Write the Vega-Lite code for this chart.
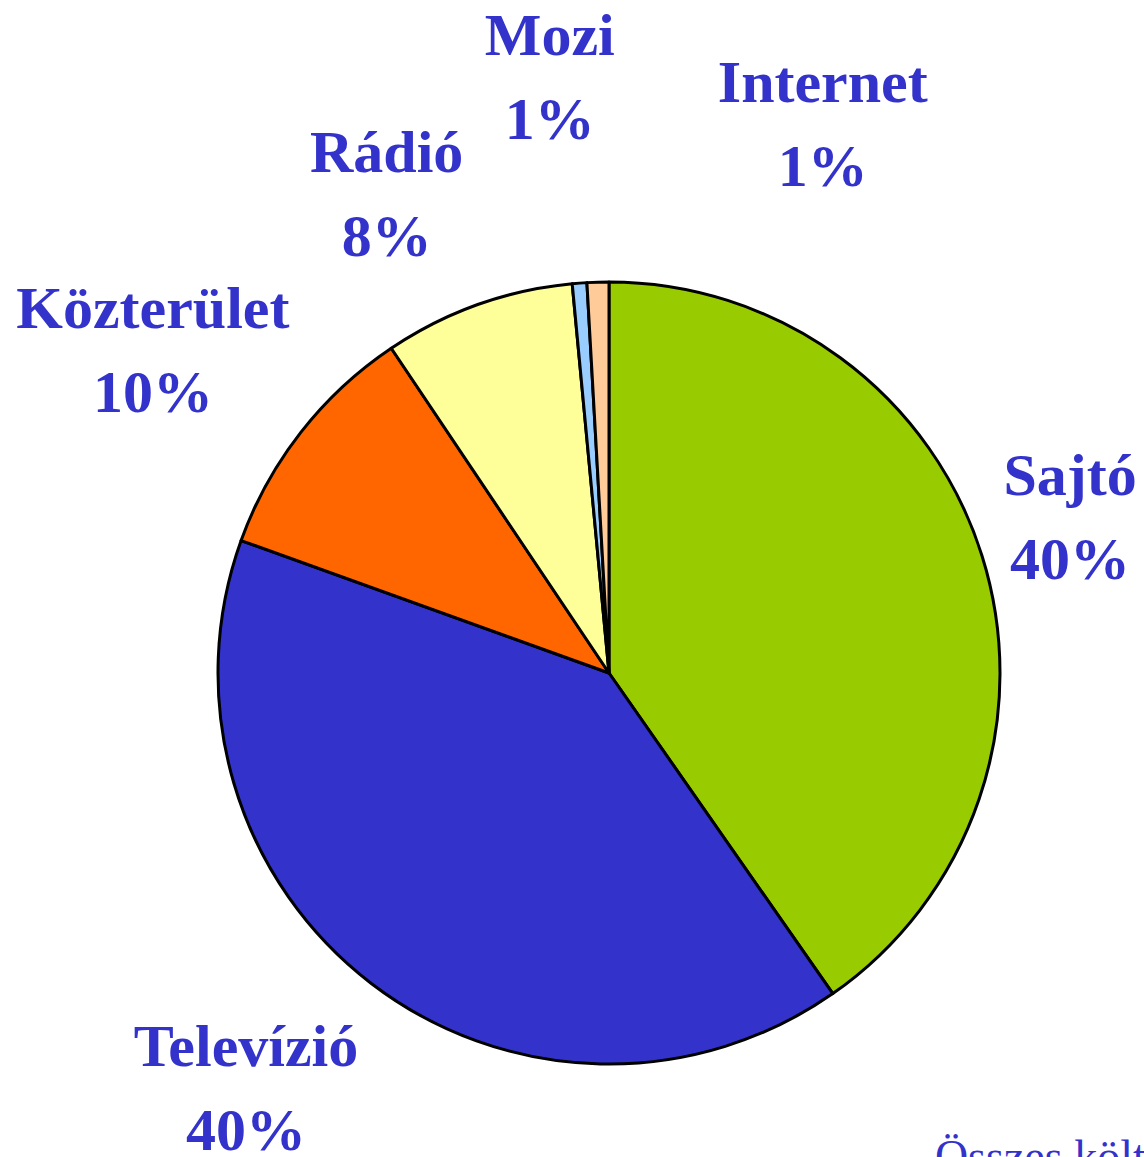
{
  "$schema": "https://vega.github.io/schema/vega-lite/v6.json",
  "autosize": "none",
  "width": 1070,
  "height": 968,
  "padding": {"left": 74, "top": 189, "right": 0, "bottom": 0},
  "background": "white",
  "view": {"stroke": null},
  "data": {
    "values": [
      {"cat": "Sajtó", "value": 40.3, "ord": 1, "label": "Sajtó\n40%"},
      {"cat": "Televízió", "value": 40.2, "ord": 2, "label": "Televízió\n40%"},
      {"cat": "Közterület", "value": 10.1, "ord": 3, "label": "Közterület\n10%"},
      {"cat": "Rádió", "value": 7.9, "ord": 4, "label": "Rádió\n8%"},
      {"cat": "Mozi", "value": 0.6, "ord": 5, "label": "Mozi\n1%"},
      {"cat": "Internet", "value": 0.9, "ord": 6, "label": "Internet\n1%"}
    ]
  },
  "encoding": {
    "theta": {"field": "value", "type": "quantitative", "stack": true},
    "order": {"field": "ord", "type": "quantitative"}
  },
  "layer": [
    {
      "mark": {"type": "arc", "outerRadius": 391, "stroke": "#000000", "strokeWidth": 3, "strokeJoin": "round"},
      "encoding": {
        "color": {
          "field": "cat",
          "type": "nominal",
          "scale": {
            "domain": ["Sajtó", "Televízió", "Közterület", "Rádió", "Mozi", "Internet"],
            "range": ["#99CC00", "#3333CC", "#FF6600", "#FFFF99", "#99CCFF", "#FFCC99"]
          },
          "legend": null
        }
      }
    },
    {
      "mark": {"type": "text", "radius": 486, "thetaOffset": -0.017, "dy": -42, "font": "Liberation Serif", "fontWeight": "bold", "fontSize": 60, "lineHeight": 84, "lineBreak": "\n", "color": "#3333CC"},
      "encoding": {"text": {"condition": {"test": "datum.cat === 'Sajtó'", "field": "label"}, "value": ""}}
    },
    {
      "mark": {"type": "text", "radius": 554, "thetaOffset": 0.061, "dy": -44, "font": "Liberation Serif", "fontWeight": "bold", "fontSize": 60, "lineHeight": 84, "lineBreak": "\n", "color": "#3333CC"},
      "encoding": {"text": {"condition": {"test": "datum.cat === 'Televízió'", "field": "label"}, "value": ""}}
    },
    {
      "mark": {"type": "text", "radius": 558, "thetaOffset": -0.049, "dy": -42, "font": "Liberation Serif", "fontWeight": "bold", "fontSize": 60, "lineHeight": 84, "lineBreak": "\n", "color": "#3333CC"},
      "encoding": {"text": {"condition": {"test": "datum.cat === 'Közterület'", "field": "label"}, "value": ""}}
    },
    {
      "mark": {"type": "text", "radius": 526, "thetaOffset": -0.094, "dy": -42, "font": "Liberation Serif", "fontWeight": "bold", "fontSize": 60, "lineHeight": 84, "lineBreak": "\n", "color": "#3333CC"},
      "encoding": {"text": {"condition": {"test": "datum.cat === 'Rádió'", "field": "label"}, "value": ""}}
    },
    {
      "mark": {"type": "text", "radius": 597, "thetaOffset": -0.024, "dy": -42, "font": "Liberation Serif", "fontWeight": "bold", "fontSize": 60, "lineHeight": 84, "lineBreak": "\n", "color": "#3333CC"},
      "encoding": {"text": {"condition": {"test": "datum.cat === 'Mozi'", "field": "label"}, "value": ""}}
    },
    {
      "mark": {"type": "text", "radius": 587, "thetaOffset": 0.401, "dy": -42, "font": "Liberation Serif", "fontWeight": "bold", "fontSize": 60, "lineHeight": 84, "lineBreak": "\n", "color": "#3333CC"},
      "encoding": {"text": {"condition": {"test": "datum.cat === 'Internet'", "field": "label"}, "value": ""}}
    },
    {
      "mark": {"type": "text", "radius": 596, "thetaOffset": 1.297, "align": "left", "baseline": "alphabetic", "font": "Liberation Serif", "fontWeight": "normal", "fontSize": 46, "color": "#3333CC"},
      "encoding": {"text": {"condition": {"test": "datum.cat === 'Sajtó'", "value": "Összes költés"}, "value": ""}}
    }
  ]
}
